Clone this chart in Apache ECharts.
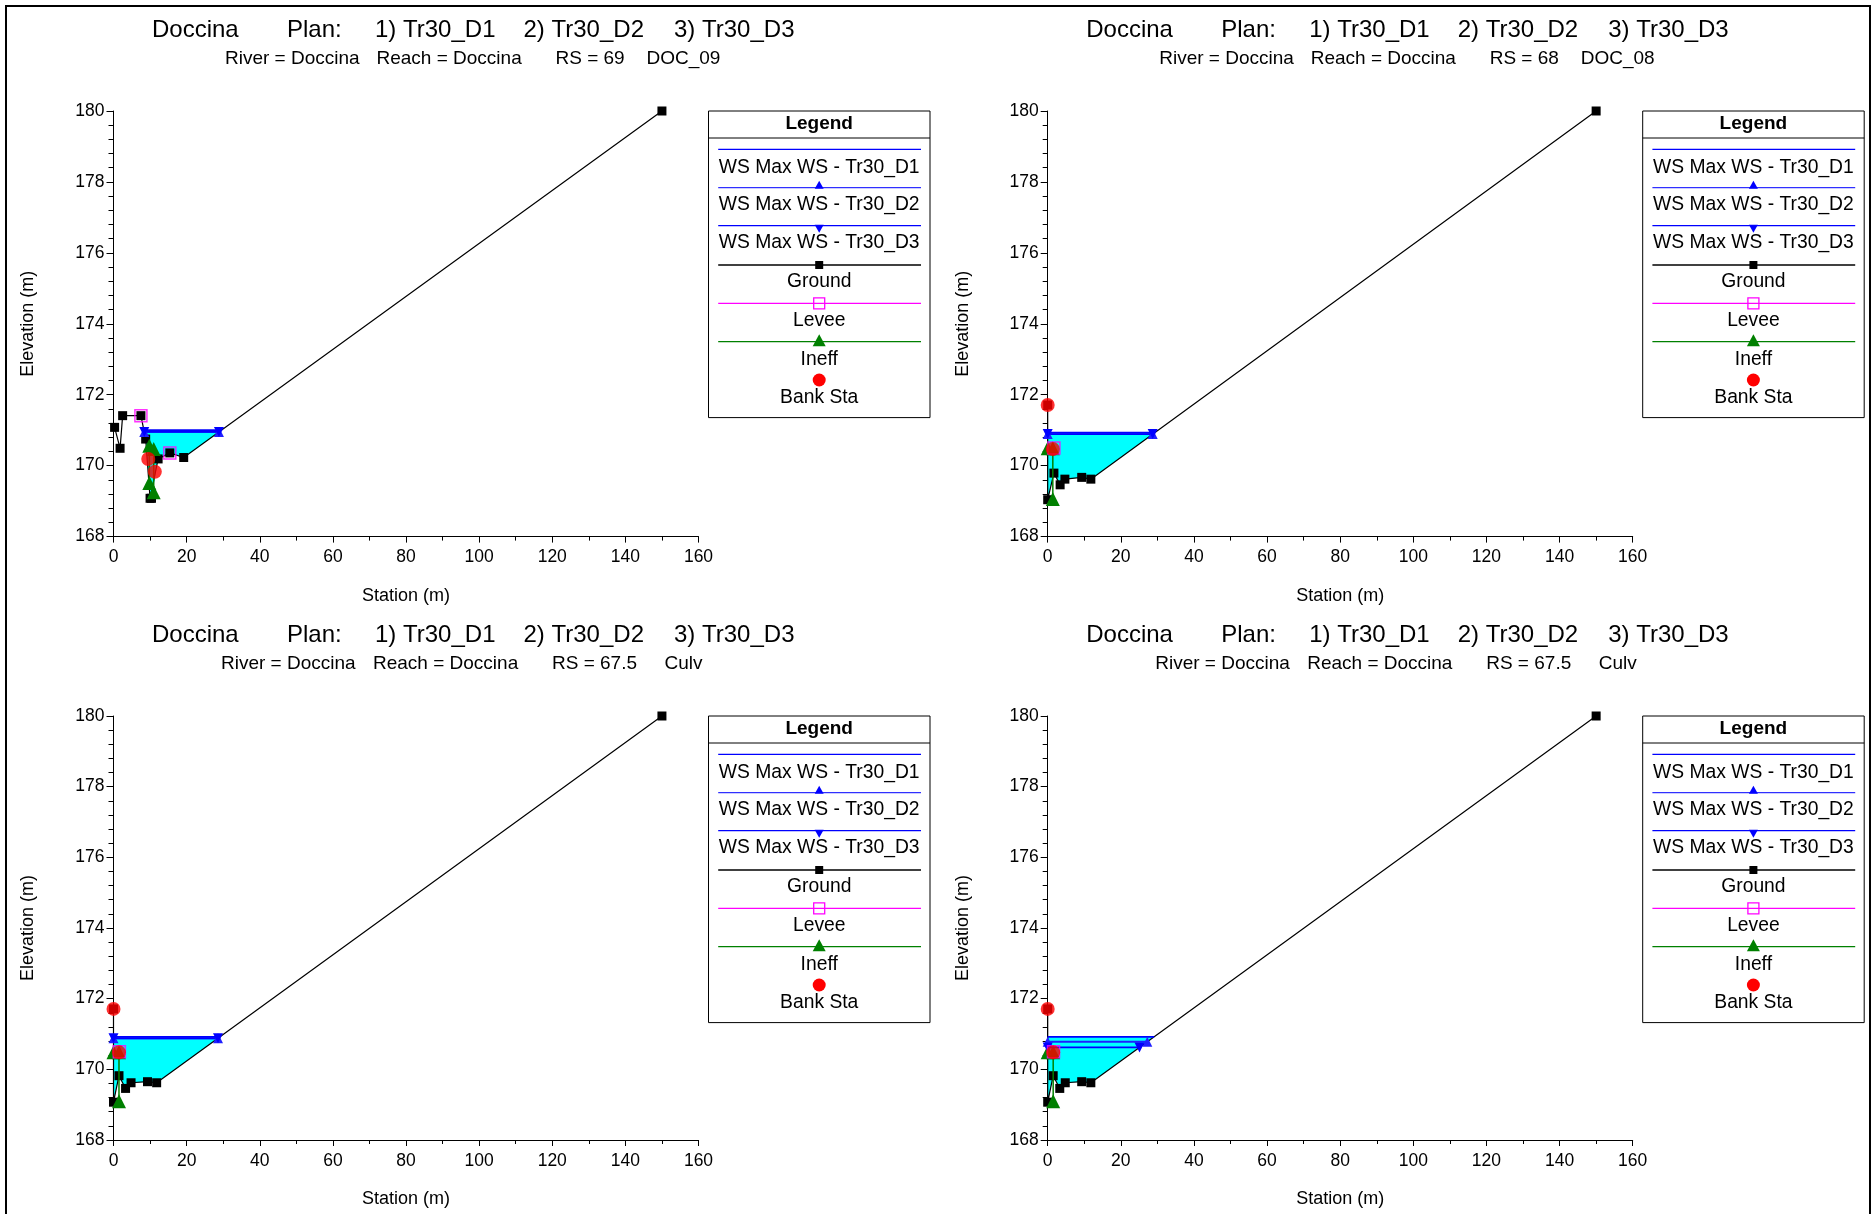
<!DOCTYPE html>
<html><head><meta charset="utf-8">
<script src="https://cdn.jsdelivr.net/npm/echarts@6/dist/echarts.min.js"></script>
<style>html,body{margin:0;padding:0;background:#fff}#c{width:1874px;height:1214px}</style>
</head><body><div id="c"></div>
<script>
// ---------------- data ----------------
const rsLabels = ['69', '68', '67.5', '67.5'];
const rsDesc = ['DOC_09', 'DOC_08', 'Culv', 'Culv'];
const xTicks = [0, 20, 40, 60, 80, 100, 120, 140, 160];
const yTicks = [168, 170, 172, 174, 176, 178, 180];

const ground1 = [[0.3,171.08],[1.8,170.49],[2.5,171.41],[7.5,171.41],[8.8,170.75],[10.0,169.08],[10.4,169.08],[12.2,170.19],[15.4,170.36],[19.2,170.23],[150,180]];
const ground2 = [[0,171.71],[0,169.04],[1.7,169.79],[3.4,169.46],[4.7,169.62],[9.3,169.67],[11.8,169.62],[150,180]];
const ground3 = [[0,171.71],[0,169.07],[1.5,169.82],[3.3,169.46],[4.8,169.62],[9.3,169.65],[11.8,169.62],[150,180]];
const ground4 = [[0,171.71],[0,169.07],[1.5,169.82],[3.3,169.46],[4.8,169.62],[9.3,169.65],[11.8,169.62],[150,180]];

const wsD1 = [171.00, 170.93, 170.92, 170.92];
const wsD2 = [170.95, 170.89, 170.88, 170.78];
const wsD3 = [170.95, 170.89, 170.88, 170.62];

const levee1 = [[7.5,171.41],[15.4,170.36]];
const levee2 = [[1.7,170.5]];
const levee3 = [[1.6,170.5]];
const levee4 = [[1.6,170.5]];

const bank1 = [[9.5,170.19],[11.3,169.83]];
const bank2 = [[0,171.71],[1.4,170.47]];
const bank3 = [[0,171.71],[1.5,170.48]];
const bank4 = [[0,171.71],[1.5,170.48]];

const ineff1 = [[[9.8,170.56],[9.8,169.51]], [[11.0,170.47],[11.0,169.25]]];
const ineff2 = [[[0,170.49],[1.4,170.49],[1.4,169.06]]];
const ineff3 = [[[0,170.48],[1.5,170.48],[1.5,169.1]]];
const ineff4 = [[[0,170.48],[1.5,170.48],[1.5,169.1]]];

const grounds = [ground1, ground2, ground3, ground4];
const levees = [levee1, levee2, levee3, levee4];
const banks = [bank1, bank2, bank3, bank4];
const ineffs = [ineff1, ineff2, ineff3, ineff4];

// ---------------- layout ----------------
const X0 = [113.5, 1047.7, 113.5, 1047.7];
const T0 = [111, 111, 716, 716];
const PW = 585, PH = [425.6, 425.6, 424, 424];
const FONT = "'Liberation Sans', Arial, Helvetica, sans-serif";

function wsExtent(g, ws) {
  let seed = 0;
  g.forEach((p, i) => { if (p[1] < g[seed][1]) seed = i; });
  let li = seed;
  while (li > 0 && g[li - 1][1] < ws) li--;
  let left;
  if (li === 0) left = [g[0][0], ws];
  else { const a = g[li - 1], b = g[li]; const t = (a[1] - ws) / (a[1] - b[1]); left = [a[0] + t * (b[0] - a[0]), ws]; }
  let ri = seed;
  while (ri < g.length - 1 && g[ri + 1][1] < ws) ri++;
  let right;
  if (ri === g.length - 1) right = [g[ri][0], ws];
  else { const a = g[ri], b = g[ri + 1]; const t = (ws - a[1]) / (b[1] - a[1]); right = [a[0] + t * (b[0] - a[0]), ws]; }
  return { left, right, inner: g.slice(li, ri + 1) };
}

const grids = [], xAxes = [], yAxes = [], series = [], graphics = [];

for (let i = 0; i < 4; i++) {
  grids.push({ left: X0[i], top: T0[i], width: PW, height: PH[i] });
  xAxes.push({
    gridIndex: i, type: 'value', min: 0, max: 160, interval: 20,
    name: 'Station (m)', nameLocation: 'middle', nameGap: 50,
    nameTextStyle: { fontFamily: FONT, fontSize: 18, color: '#000' },
    axisLine: { show: true, onZero: false, lineStyle: { color: '#000', width: 1 } },
    axisTick: { show: true, inside: false, length: 6, lineStyle: { color: '#000' } },
    minorTick: { show: true, splitNumber: 2, length: 4, lineStyle: { color: '#000' } },
    axisLabel: { fontFamily: FONT, fontSize: 17.5, color: '#000', margin: 12,
      formatter: v => xTicks.includes(v) ? String(v) : '' },
    splitLine: { show: false }
  });
  yAxes.push({
    gridIndex: i, type: 'value', min: 168, max: 180, interval: 2,
    name: 'Elevation (m)', nameLocation: 'middle', nameGap: 76, nameRotate: 90,
    nameTextStyle: { fontFamily: FONT, fontSize: 18, color: '#000' },
    axisLine: { show: true, onZero: false, lineStyle: { color: '#000', width: 1 } },
    axisTick: { show: true, inside: false, length: 7, lineStyle: { color: '#000' } },
    minorTick: { show: true, splitNumber: 5, length: 5, lineStyle: { color: '#000' } },
    axisLabel: { fontFamily: FONT, fontSize: 17.5, color: '#000', margin: 9,
      formatter: v => yTicks.includes(v) ? String(v) : '' },
    splitLine: { show: false }
  });

  const g = grounds[i];
  const wsTop = Math.max(wsD1[i], wsD2[i], wsD3[i]);
  const ext = wsExtent(g, wsTop);
  const poly = [ext.left, ...ext.inner, ext.right];

  // water fill
  series.push({
    type: 'custom', xAxisIndex: i, yAxisIndex: i, z: 1, silent: true,
    data: [[0, 170]],
    renderItem: (params, api) => ({
      type: 'polygon',
      shape: { points: poly.map(p => api.coord(p)) },
      style: { fill: '#00ffff', stroke: 'none' }
    })
  });

  // ground
  series.push({
    name: 'Ground', type: 'line', xAxisIndex: i, yAxisIndex: i, z: 2, data: g,
    symbol: 'rect', symbolSize: 9, showAllSymbol: true,
    lineStyle: { color: '#000', width: 1.2 }, itemStyle: { color: '#000' },
    animation: false
  });

  // ineff
  ineffs[i].forEach(seg => {
    series.push({
      name: 'Ineff', type: 'line', xAxisIndex: i, yAxisIndex: i, z: 3, data: seg,
      symbol: 'triangle', symbolSize: 14,
      lineStyle: { color: '#008000', width: 1.5 }, itemStyle: { color: '#008000' },
      animation: false
    });
  });

  // water surfaces
  const wsList = [
    { v: wsD1[i], sym: 'none', rot: 0, color: '#0000ff' },
    { v: wsD2[i], sym: 'triangle', rot: 0, color: '#2020ff' },
    { v: wsD3[i], sym: 'triangle', rot: 180, color: '#0000ff' }
  ];
  wsList.forEach((w, k) => {
    const e = wsExtent(g, w.v);
    series.push({
      name: 'WS' + (k + 1), type: 'line', xAxisIndex: i, yAxisIndex: i, z: 4,
      data: [e.left, e.right], symbol: w.sym, symbolRotate: w.rot, symbolSize: 10,
      lineStyle: { color: w.color, width: 1.8 }, itemStyle: { color: w.color },
      animation: false
    });
  });

  // levee
  series.push({
    name: 'Levee', type: 'scatter', xAxisIndex: i, yAxisIndex: i, z: 5, data: levees[i],
    symbol: 'rect', symbolSize: 12,
    itemStyle: { color: 'rgba(0,0,0,0)', borderColor: '#ff00ff', borderWidth: 1.5 },
    animation: false
  });

  // bank stations
  series.push({
    name: 'Bank Sta', type: 'scatter', xAxisIndex: i, yAxisIndex: i, z: 6, data: banks[i],
    symbol: 'circle', symbolSize: 14, itemStyle: { color: '#ff0000' },
    animation: false
  });

  // titles
  const dx = X0[i] - 113.5, dy = T0[i] - 111;
  const tY = 30.5 + dy, sY = 58.5 + dy;
  const titleParts = [['Doccina', 152], ['Plan:', 287], ['1) Tr30_D1', 375], ['2) Tr30_D2', 523.5], ['3) Tr30_D3', 674]];
  titleParts.forEach(([t, x]) => graphics.push({
    type: 'text', style: { text: t, x: x + dx, y: tY, font: '24px ' + FONT, fill: '#000', verticalAlign: 'middle', align: 'left' }
  }));
  const subParts = i < 2
    ? [['River = Doccina', 225], ['Reach = Doccina', 376.5], ['RS = ' + rsLabels[i], 555.5], [rsDesc[i], 646.5]]
    : [['River = Doccina', 221], ['Reach = Doccina', 373], ['RS = ' + rsLabels[i], 552], [rsDesc[i], 664.5]];
  subParts.forEach(([t, x]) => graphics.push({
    type: 'text', style: { text: t, x: x + dx, y: sY, font: '19px ' + FONT, fill: '#000', verticalAlign: 'middle', align: 'left' }
  }));

  // legend box
  const lx = X0[i] + 595, ly = T0[i];
  const lw = 221.5, lh = 306.6, cx = lx + 110.7;
  const lx1 = lx + 9.7, lx2 = lx + 212.5;
  graphics.push({ type: 'rect', shape: { x: lx, y: ly, width: lw, height: lh }, style: { fill: '#fff', stroke: '#000', lineWidth: 1 }, z: 10 });
  graphics.push({ type: 'line', shape: { x1: lx, y1: ly + 27, x2: lx + lw, y2: ly + 27 }, style: { stroke: '#000', lineWidth: 1 }, z: 11 });
  graphics.push({ type: 'text', z: 11, style: { text: 'Legend', x: cx, y: ly + 12.5, font: 'bold 19px ' + FONT, fill: '#000', align: 'center', verticalAlign: 'middle' } });
  const lineYs = [38.3, 76.7, 114.7, 154, 192.3, 230.7];
  const lineCols = ['#0000ff', '#3030ff', '#0000ff', '#000000', '#ff00ff', '#008000'];
  lineYs.forEach((yy, k) => graphics.push({ type: 'line', z: 11, shape: { x1: lx1, y1: ly + yy, x2: lx2, y2: ly + yy }, style: { stroke: lineCols[k], lineWidth: 1.3 } }));
  const texts = ['WS Max WS - Tr30_D1', 'WS Max WS - Tr30_D2', 'WS Max WS - Tr30_D3', 'Ground', 'Levee', 'Ineff', 'Bank Sta'];
  const textYs = [56.2, 93.8, 131.8, 170.5, 209.5, 248.5, 286.8];
  texts.forEach((t, k) => graphics.push({ type: 'text', z: 11, style: { text: t, x: cx, y: ly + textYs[k], font: '19.3px ' + FONT, fill: '#000', align: 'center', verticalAlign: 'middle' } }));
  // markers
  const y2 = ly + 76.7, y3 = ly + 114.7;
  graphics.push({ type: 'polygon', z: 12, shape: { points: [[cx - 4.5, y2 + 1], [cx + 4.5, y2 + 1], [cx, y2 - 7]] }, style: { fill: '#0000ff' } });
  graphics.push({ type: 'polygon', z: 12, shape: { points: [[cx - 4.5, y3 - 1], [cx + 4.5, y3 - 1], [cx, y3 + 7]] }, style: { fill: '#0000ff' } });
  graphics.push({ type: 'rect', z: 12, shape: { x: cx - 4, y: ly + 154 - 4, width: 8, height: 8 }, style: { fill: '#000' } });
  graphics.push({ type: 'rect', z: 12, shape: { x: cx - 5.5, y: ly + 192.3 - 5.5, width: 11, height: 11 }, style: { fill: 'none', stroke: '#ff00ff', lineWidth: 1.3 } });
  const y6 = ly + 230.7;
  graphics.push({ type: 'polygon', z: 12, shape: { points: [[cx - 6.5, y6 + 4.5], [cx + 6.5, y6 + 4.5], [cx, y6 - 7.5]] }, style: { fill: '#008000' } });
  graphics.push({ type: 'circle', z: 12, shape: { cx: cx, cy: ly + 269, r: 6.5 }, style: { fill: '#ff0000' } });
}

// outer border
graphics.push({ type: 'rect', z: 20, shape: { x: 6, y: 6, width: 1864, height: 1230 }, style: { fill: 'none', stroke: '#000', lineWidth: 2 } });

const chart = echarts.init(document.getElementById('c'), null, { renderer: 'canvas' });
chart.setOption({
  animation: false,
  backgroundColor: '#fff',
  grid: grids, xAxis: xAxes, yAxis: yAxes, series: series,
  graphic: { elements: graphics }
});
</script>
</body></html>
